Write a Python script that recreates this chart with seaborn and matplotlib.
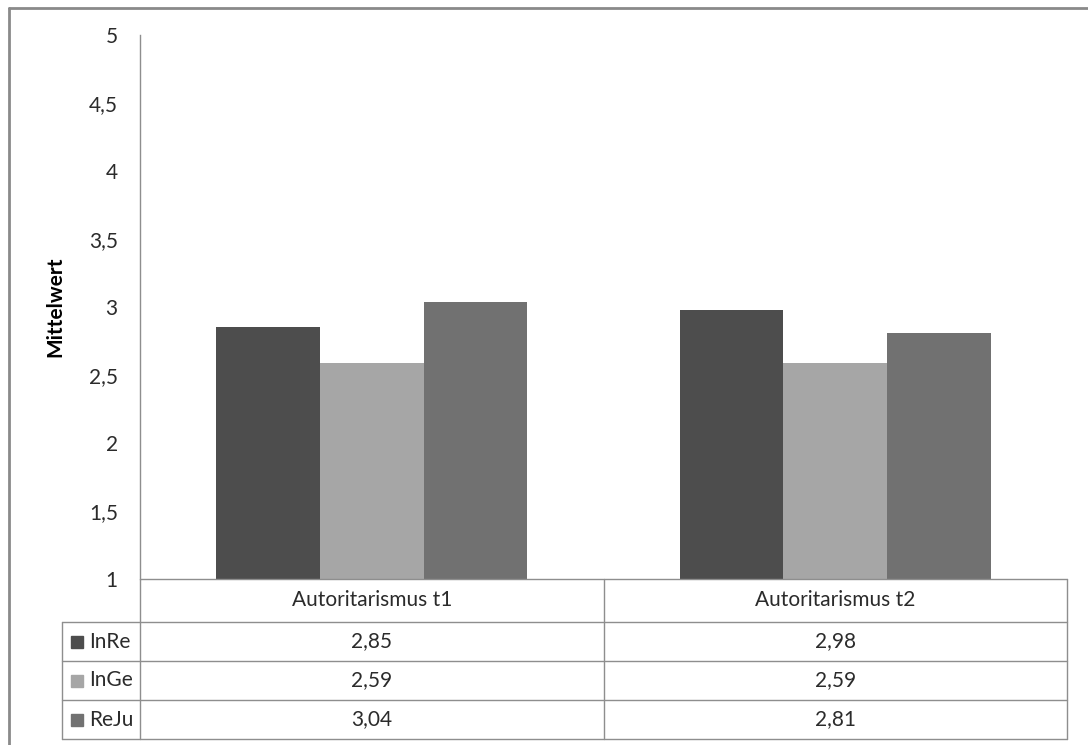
import numpy as np
import pandas as pd
import seaborn as sns
import matplotlib.pyplot as plt
from matplotlib.ticker import FuncFormatter
from matplotlib.lines import Line2D

# data
categories = ['Autoritarismus t1', 'Autoritarismus t2']
series = ['InRe', 'InGe', 'ReJu']
values = {
    'InRe': [2.85, 2.98],
    'InGe': [2.59, 2.59],
    'ReJu': [3.04, 2.81],
}
colors = ['#4d4d4d', '#a6a6a6', '#717171']
y_ticks = [1, 1.5, 2, 2.5, 3, 3.5, 4, 4.5, 5]

rows = []
for s in series:
    for c, v in zip(categories, values[s]):
        rows.append({'Kategorie': c, 'Gruppe': s, 'Mittelwert': v})
df = pd.DataFrame(rows)

sns.set_theme(style='white')
plt.rcParams['font.family'] = ['Lato', 'DejaVu Sans']
text_col = '#2b2b2b'
line_col = '#8e8e8e'
fs = 15

fig = plt.figure(figsize=(10.88, 7.45), dpi=100)
W, H = 1088, 745
ax = fig.add_axes([140 / W, 1 - 579 / H, (1067 - 140) / W, (579 - 35) / H])

sns.barplot(data=df, x='Kategorie', y='Mittelwert', hue='Gruppe',
            order=categories, hue_order=series, palette=colors,
            width=0.672, gap=0, saturation=1, errorbar=None,
            linewidth=0, legend=False, ax=ax)

ax.set_ylim(1, 5)
ax.set_xlim(-0.5, len(categories) - 0.5)
ax.set_yticks(y_ticks)
ax.yaxis.set_major_formatter(FuncFormatter(lambda v, p: f'{v:g}'.replace('.', ',')))
ax.tick_params(axis='y', length=0, pad=16, labelsize=fs, labelcolor=text_col)
ax.set_xticks([])
ax.set_xlabel('')
ax.set_ylabel('Mittelwert', fontsize=fs, fontweight='bold', color='black', labelpad=17)
for side in ['top', 'right', 'bottom']:
    ax.spines[side].set_visible(False)
ax.spines['left'].set_color(line_col)
ax.spines['left'].set_linewidth(1)

# data table below the plot (axes coordinates)
ax_w, ax_h = 1067 - 140, 579 - 35
xl = -78 / ax_w
ys = [0, -43 / ax_h]
for i in range(len(series)):
    ys.append(ys[-1] - 39 / ax_h)
ncol = len(categories)
col_edges = [j / ncol for j in range(ncol + 1)]

def hline(x0, x1, y):
    ax.add_line(Line2D([x0, x1], [y, y], transform=ax.transAxes, color=line_col,
                       lw=1, clip_on=False))

def vline(x, y0, y1):
    ax.add_line(Line2D([x, x], [y0, y1], transform=ax.transAxes, color=line_col,
                       lw=1, clip_on=False))

hline(0, 1, ys[0])
for y in ys[1:]:
    hline(xl, 1, y)
for x in col_edges:
    vline(x, ys[0], ys[-1])
vline(xl, ys[1], ys[-1])

for j, c in enumerate(categories):
    xc = (col_edges[j] + col_edges[j + 1]) / 2
    ax.text(xc, (ys[0] + ys[1]) / 2, c, transform=ax.transAxes, ha='center',
            va='center', fontsize=fs, color=text_col)

for i, s in enumerate(series):
    yc = (ys[i + 1] + ys[i + 2]) / 2
    ax.plot([xl + 15 / ax_w], [yc], marker='s', markersize=8.5, color=colors[i],
            transform=ax.transAxes, clip_on=False)
    ax.text(xl + 27 / ax_w, yc, s, transform=ax.transAxes, ha='left',
            va='center', fontsize=fs, color=text_col)
    for j, v in enumerate(values[s]):
        xc = (col_edges[j] + col_edges[j + 1]) / 2
        ax.text(xc, yc, f'{v:.2f}'.replace('.', ','), transform=ax.transAxes,
                ha='center', va='center', fontsize=fs, color=text_col)

# outer chart frame (only left and top edges visible in the screenshot)
fig.add_artist(Line2D([9 / W, 9 / W], [0, 1 - 8 / H], color='#8a8a8a', lw=2))
fig.add_artist(Line2D([9 / W, 1], [1 - 8 / H, 1 - 8 / H], color='#8a8a8a', lw=2))

fig.savefig('out.png', dpi=100, facecolor='white')
